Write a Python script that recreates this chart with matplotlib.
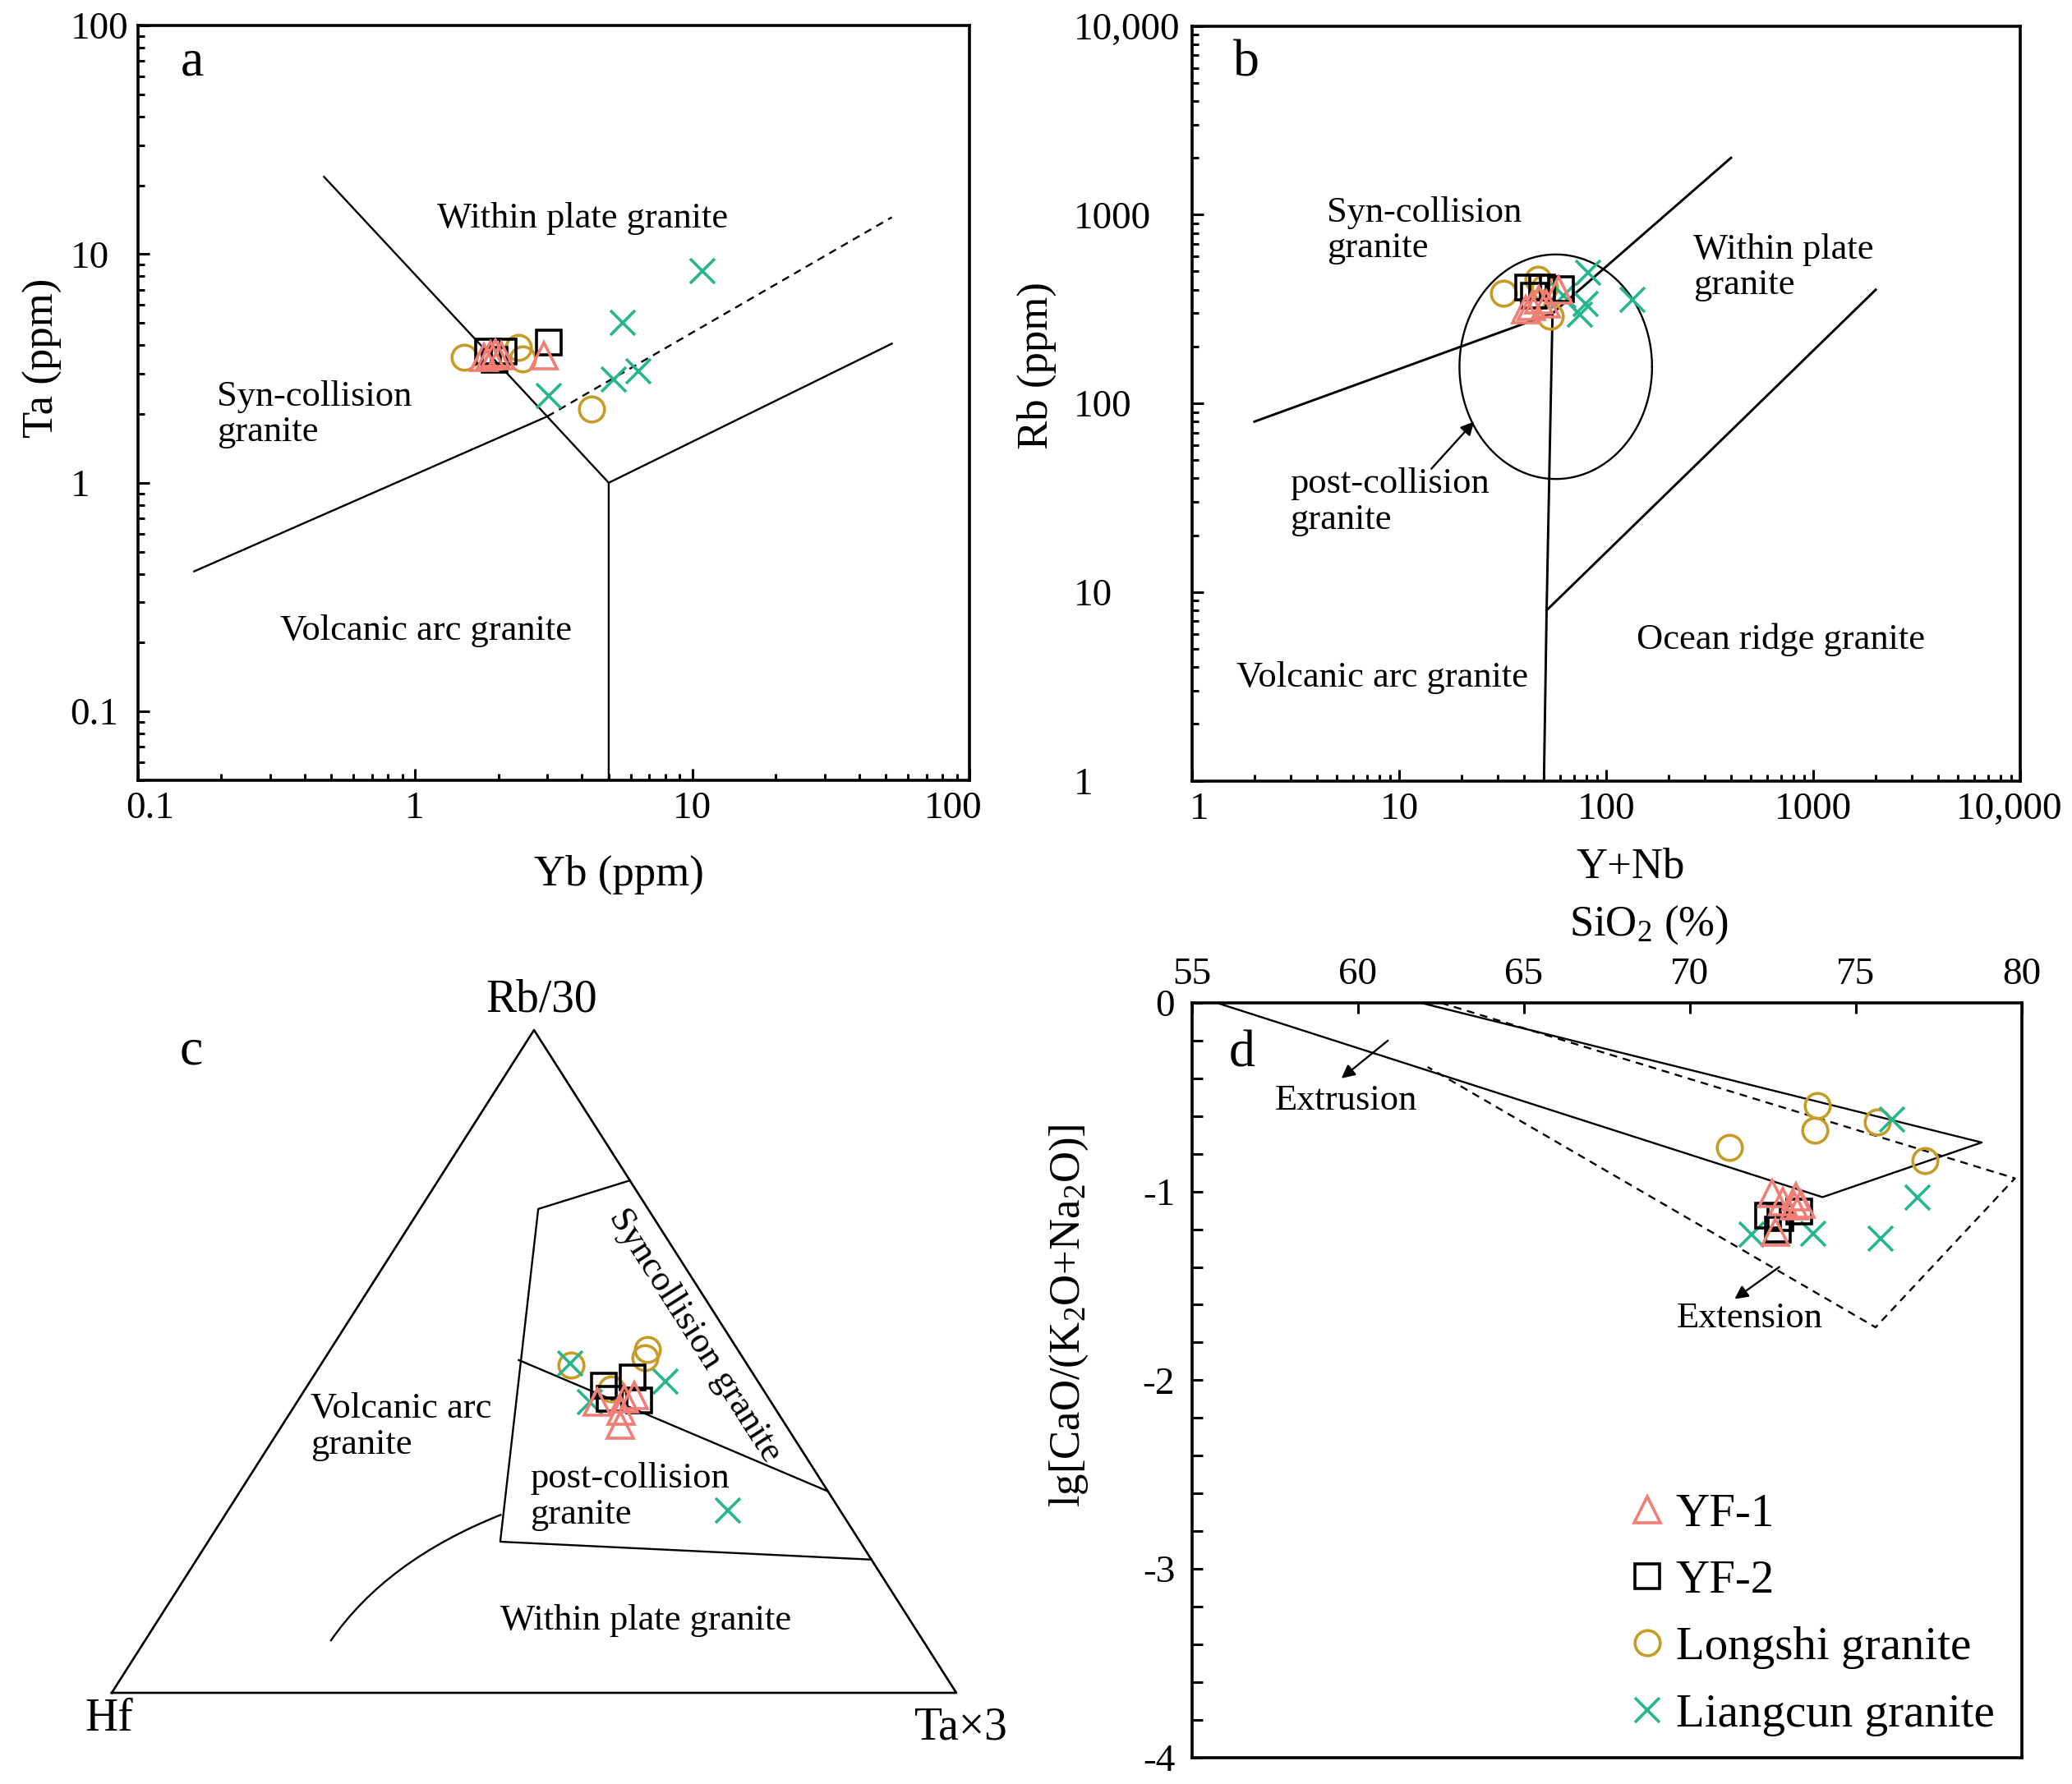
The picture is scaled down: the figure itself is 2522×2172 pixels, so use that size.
import numpy as np
import matplotlib
matplotlib.use("Agg")
import matplotlib.pyplot as plt
from matplotlib.path import Path
from matplotlib.patches import PathPatch
from matplotlib.ticker import LogLocator, NullFormatter, MultipleLocator
from matplotlib.transforms import ScaledTranslation

plt.rcParams['font.family'] = ['Liberation Serif', 'DejaVu Serif']
plt.rcParams['mathtext.fontset'] = 'custom'
plt.rcParams['mathtext.rm'] = 'Liberation Serif'
plt.rcParams['mathtext.it'] = 'Liberation Serif:italic'

# ======================= DATA =======================
series_labels = ['YF-1', 'YF-2', 'Longshi granite', 'Liangcun granite']

# --- panel a : Yb (ppm) vs Ta (ppm)
a_yf1_yb = [1.77, 1.87, 1.95, 2.05, 2.91]
a_yf1_ta = [3.54, 3.64, 3.70, 3.59, 3.59]
a_yf2_yb = [1.83, 2.09, 1.94, 3.05]
a_yf2_ta = [3.74, 3.74, 3.44, 4.12]
a_ls_yb = [1.51, 2.37, 2.45, 4.33]
a_ls_ta = [3.54, 3.90, 3.49, 2.10]
a_lc_yb = [10.9, 5.6, 5.2, 6.41, 3.05]
a_lc_ta = [8.44, 5.0, 2.84, 3.08, 2.40]

# panel a field boundaries (Yb, Ta)
a_syn_wpg_yb = [0.47, 3.0, 5.0]
a_syn_wpg_ta = [21.8, 1.95, 1.0]
a_vag_syn_yb = [0.16, 3.0]
a_vag_syn_ta = [0.41, 1.95]
a_vag_wpg_yb = [5.0, 5.0, 52.5]
a_vag_wpg_ta = [0.05, 1.0, 4.06]
a_org_yb = [3.0, 52.5]
a_org_ta = [1.95, 14.5]

a_ticks = [0.1, 1, 10, 100]
a_ticklabels = ['0.1', '1', '10', '100']

# --- panel b : Y+Nb vs Rb (ppm)
b_yf1_ynb = [43.3, 47.4, 58.7, 40.7, 51.2]
b_yf1_rb = [325, 353, 398, 315, 336]
b_yf2_ynb = [42.0, 48.9, 60.4, 44.6]
b_yf2_rb = [411, 411, 404, 372]
b_ls_ynb = [31.9, 46.7, 53.5, 50.4]
b_ls_rb = [385, 454, 289, 411]
b_lc_ynb = [82.0, 79.4, 74.8, 133.6, 62.0]
b_lc_rb = [494, 336, 294, 353, 372]

# panel b field boundaries (Y+Nb, Rb)
b_syn_vag_x = [2.0, 55.0]
b_syn_vag_y = [80, 300]
b_syn_wpg_x = [55.0, 400.0]
b_syn_wpg_y = [300, 2000]
b_vag_x = [55.0, 51.5, 50.0]
b_vag_y = [300, 8, 1]
b_wpg_org_x = [51.5, 2000.0]
b_wpg_org_y = [8, 400]
# post-collision ellipse (log10 centre and semi-axes)
b_ell_logc = (1.756, 2.194)
b_ell_logr = (0.465, 0.595)

b_ticks = [1, 10, 100, 1000, 10000]
b_ticklabels = ['1', '10', '100', '1000', '10,000']

# --- panel c : ternary Hf - Rb/30 - Ta*3 (percent)
c_yf1_hf = [20.6, 17.1, 15.7, 18.4, 19.6]
c_yf1_rb = [43.9, 44.3, 44.9, 42.5, 40.4]
c_yf1_ta = [35.5, 38.5, 39.4, 39.1, 40.0]
c_yf2_hf = [18.5, 14.5, 15.5, 18.9]
c_yf2_rb = [46.4, 47.6, 44.1, 44.3]
c_yf2_ta = [35.1, 37.9, 40.4, 36.8]
c_ls_hf = [20.9, 10.7, 11.6, 18.0]
c_ls_rb = [49.5, 51.8, 50.5, 45.8]
c_ls_ta = [29.6, 37.6, 37.9, 36.2]
c_lc_hf = [20.9, 10.9, 21.4, 13.3]
c_lc_rb = [49.7, 47.0, 43.9, 27.5]
c_lc_ta = [29.4, 42.1, 34.7, 59.2]

# ternary field boundaries (Hf, Rb/30, Ta*3)
c_poly_hf = [0.0, 13.0, 42.6, 0.0]
c_poly_rb = [77.3, 73.0, 22.8, 20.1]
c_poly_ta = [22.7, 14.0, 34.6, 79.9]
c_mid_hf = [26.7, 0.0]
c_mid_rb = [50.2, 30.4]
c_mid_ta = [23.1, 69.6]
c_curve_hf = [70.2, 57.5, 40.4]
c_curve_rb = [7.8, 20.0, 26.9]
c_curve_ta = [22.0, 22.5, 32.7]

# --- panel d : SiO2 vs lg[CaO/(K2O+Na2O)]
d_yf1_si = [72.48, 72.81, 73.19, 73.35, 72.57, 73.14]
d_yf1_lg = [-1.011, -1.055, -1.026, -1.069, -1.214, -1.076]
d_yf2_si = [72.36, 72.65, 73.31, 72.73]
d_yf2_lg = [-1.127, -1.200, -1.106, -1.142]
d_ls_si = [71.2, 73.85, 73.76, 75.64, 77.09]
d_ls_lg = [-0.765, -0.544, -0.675, -0.631, -0.834]
d_lc_si = [76.1, 76.86, 75.75, 73.71, 71.86]
d_lc_lg = [-0.62, -1.033, -1.25, -1.222, -1.229]

d_solid_si = [61.9, 78.8, 74.0, 55.75]
d_solid_lg = [0.0, -0.74, -1.03, 0.0]
d_dash_si = [62.5, 79.8, 75.6, 62.1]
d_dash_lg = [0.0, -0.93, -1.72, -0.34]

d_xticks = [55, 60, 65, 70, 75, 80]
d_xticklabels = ['55', '60', '65', '70', '75', '80']
d_yticks = [0, -1, -2, -3, -4]
d_yticklabels = ['0', '-1', '-2', '-3', '-4']

# ======================= STYLE =======================
C_TRI = '#F27D75'
C_CIR = '#C69C26'
C_X = '#27B58D'
MEW = 2.6
TRI = dict(marker='^', ms=23, mfc='none', mec=C_TRI, mew=MEW, ls='none', zorder=6)
SQ = dict(marker='s', ms=21, mfc='none', mec='black', mew=MEW, ls='none', zorder=5)
CIR = dict(marker='o', ms=22, mfc='none', mec=C_CIR, mew=MEW, ls='none', zorder=3)
XX = dict(marker='x', ms=21, mec=C_X, mew=MEW, ls='none', zorder=4)
LINE = dict(color='black', lw=1.7, zorder=2)

FS_TICK = 34
FS_LAB = 38
FS_TXT = 32
FS_LET = 46

W, H, DPI = 2522, 2172, 100
fig = plt.figure(figsize=(W / DPI, H / DPI), dpi=DPI)


def px_axes(l, t, r, b):
    return fig.add_axes([l / W, 1 - b / H, (r - l) / W, (b - t) / H])


def shift_label(lab, dx_px):
    lab.set_transform(lab.get_transform() + ScaledTranslation(dx_px / DPI, 0, fig.dpi_scale_trans))


def log_axes_style(ax, ypad):
    for s in ax.spines.values():
        s.set_linewidth(2.6)
    for axis in (ax.xaxis, ax.yaxis):
        axis.set_minor_locator(LogLocator(base=10, subs=np.arange(2, 10), numticks=60))
        axis.set_minor_formatter(NullFormatter())
    ax.tick_params(which='both', direction='in', top=False, right=False, width=2.2)
    ax.tick_params(which='major', length=10, labelsize=FS_TICK)
    ax.tick_params(which='minor', length=6)
    ax.tick_params(axis='x', pad=10)
    ax.tick_params(axis='y', pad=ypad)
    for lab in ax.get_yticklabels():
        lab.set_ha('left')


# ======================= PANEL A =======================
axa = px_axes(167.5, 31, 1180, 950)
axa.set_xscale('log')
axa.set_yscale('log')
axa.set_xlim(0.1, 100)
axa.set_ylim(0.05, 100)
axa.set_xticks(a_ticks, a_ticklabels)
axa.set_yticks(a_ticks, a_ticklabels)
log_axes_style(axa, 59)
xl = axa.get_xticklabels()
shift_label(xl[0], 15)
shift_label(xl[-1], -20)

axa.plot(a_syn_wpg_yb, a_syn_wpg_ta, **LINE)
axa.plot(a_vag_syn_yb, a_vag_syn_ta, **LINE)
axa.plot(a_vag_wpg_yb, a_vag_wpg_ta, **LINE)
axa.plot(a_org_yb, a_org_ta, color='black', lw=1.7, ls=(0, (4, 3)), zorder=2)

axa.plot(a_ls_yb, a_ls_ta, **CIR)
axa.plot(a_lc_yb, a_lc_ta, **XX)
axa.plot(a_yf2_yb, a_yf2_ta, **SQ)
axa.plot(a_yf1_yb, a_yf1_ta, **TRI)

axa.text(0.066, 0.95, 'a', transform=axa.transAxes, fontsize=FS_LET, ha='center', va='center')
axa.text(0.535, 0.744, 'Within plate granite', transform=axa.transAxes, fontsize=FS_TXT,
         ha='center', va='center')
axa.text(0.095, 0.485, 'Syn-collision\ngranite', transform=axa.transAxes, fontsize=FS_TXT,
         ha='left', va='center', linespacing=1.1)
axa.text(0.347, 0.198, 'Volcanic arc granite', transform=axa.transAxes, fontsize=FS_TXT,
         ha='center', va='center')
axa.set_xlabel('Yb (ppm)', fontsize=FS_LAB, va='center')
axa.xaxis.set_label_coords(0.579, -0.125)
axa.set_ylabel('Ta (ppm)', fontsize=FS_LAB, va='center')
axa.yaxis.set_label_coords(-0.114, 0.56)

# ======================= PANEL B =======================
axb = px_axes(1451, 31.6, 2459.3, 950.5)
axb.set_xscale('log')
axb.set_yscale('log')
axb.set_xlim(1, 10000)
axb.set_ylim(1, 10000)
axb.set_xticks(b_ticks, b_ticklabels)
axb.set_yticks(b_ticks, b_ticklabels)
log_axes_style(axb, 104)
xl = axb.get_xticklabels()
shift_label(xl[0], 9)
shift_label(xl[-1], -14)

LINEB = dict(color='black', lw=2.1, zorder=2)
axb.plot(b_syn_vag_x, b_syn_vag_y, **LINEB)
axb.plot(b_syn_wpg_x, b_syn_wpg_y, **LINEB)
axb.plot(b_vag_x, b_vag_y, **LINEB)
axb.plot(b_wpg_org_x, b_wpg_org_y, **LINEB)
tt = np.linspace(0, 2 * np.pi, 361)
axb.plot(10 ** (b_ell_logc[0] + b_ell_logr[0] * np.cos(tt)),
         10 ** (b_ell_logc[1] + b_ell_logr[1] * np.sin(tt)), color='black', lw=1.7, zorder=2)
axb.annotate('', xy=(23, 80), xytext=(14.3, 45),
             arrowprops=dict(arrowstyle='-|>', color='black', lw=1.7, mutation_scale=24,
                             shrinkA=0, shrinkB=0))

axb.plot(b_ls_ynb, b_ls_rb, **CIR)
axb.plot(b_lc_ynb, b_lc_rb, **XX)
axb.plot(b_yf2_ynb, b_yf2_rb, **SQ)
axb.plot(b_yf1_ynb, b_yf1_rb, **TRI)

axb.text(0.065, 0.95, 'b', transform=axb.transAxes, fontsize=FS_LET, ha='center', va='center')
axb.text(0.1625, 0.729, 'Syn-collision\ngranite', transform=axb.transAxes, fontsize=FS_TXT,
         ha='left', va='center', linespacing=1.1)
axb.text(0.605, 0.68, 'Within plate\ngranite', transform=axb.transAxes, fontsize=FS_TXT,
         ha='left', va='center', linespacing=1.1)
axb.text(0.1185, 0.3695, 'post-collision\ngranite', transform=axb.transAxes, fontsize=FS_TXT,
         ha='left', va='center', linespacing=1.1)
axb.text(0.711, 0.187, 'Ocean ridge granite', transform=axb.transAxes, fontsize=FS_TXT,
         ha='center', va='center')
axb.text(0.230, 0.137, 'Volcanic arc granite', transform=axb.transAxes, fontsize=FS_TXT,
         ha='center', va='center')
axb.set_xlabel('Y+Nb', fontsize=FS_LAB, va='center')
axb.xaxis.set_label_coords(0.529, -0.1146)
axb.set_ylabel('Rb (ppm)', fontsize=FS_LAB, va='center')
axb.yaxis.set_label_coords(-0.188, 0.55)

# ======================= PANEL C (ternary) =======================
axc = fig.add_axes([0, 0, 1261 / W, 1072 / H])
axc.set_xlim(0, 1261)
axc.set_ylim(2172, 1100)
axc.axis('off')

V_HF = (136.0, 2061.0)
V_RB = (650.0, 1254.0)
V_TA = (1164.0, 2061.0)


def tern(hf, rb, ta):
    hf, rb, ta = (np.asarray(v, dtype=float) for v in (hf, rb, ta))
    s = hf + rb + ta
    a, b, c = hf / s, rb / s, ta / s
    return (a * V_HF[0] + b * V_RB[0] + c * V_TA[0],
            a * V_HF[1] + b * V_RB[1] + c * V_TA[1])


LINEC = dict(color='black', lw=1.7, zorder=2)
axc.plot([V_HF[0], V_RB[0], V_TA[0], V_HF[0]], [V_HF[1], V_RB[1], V_TA[1], V_HF[1]],
         color='black', lw=1.9, zorder=2)
axc.plot(*tern(c_poly_hf, c_poly_rb, c_poly_ta), **LINEC)
axc.plot(*tern(c_mid_hf, c_mid_rb, c_mid_ta), **LINEC)
cx, cy = tern(c_curve_hf, c_curve_rb, c_curve_ta)
curve = Path(list(zip(cx, cy)), [Path.MOVETO, Path.CURVE3, Path.CURVE3])
axc.add_patch(PathPatch(curve, fill=False, lw=1.7, color='black', zorder=2))

axc.plot(*tern(c_ls_hf, c_ls_rb, c_ls_ta), **CIR)
axc.plot(*tern(c_lc_hf, c_lc_rb, c_lc_ta), **XX)
axc.plot(*tern(c_yf2_hf, c_yf2_rb, c_yf2_ta), **SQ)
axc.plot(*tern(c_yf1_hf, c_yf1_rb, c_yf1_ta), **TRI)

axc.text(233, 1281, 'c', fontsize=FS_LET, ha='center', va='center')
axc.text(659, 1218, 'Rb/30', fontsize=40, ha='center', va='center')
axc.text(133, 2093, 'Hf', fontsize=40, ha='center', va='center')
axc.text(1170, 2103, 'Ta×3', fontsize=40, ha='center', va='center')
axc.text(378, 1737, 'Volcanic arc\ngranite', fontsize=FS_TXT, ha='left', va='center',
         linespacing=1.1)
axc.text(846, 1626, 'Syncollision granite', fontsize=FS_TXT, ha='center', va='center',
         rotation=-57.5, rotation_mode='anchor')
axc.text(645, 1822, 'post-collision\ngranite', fontsize=FS_TXT, ha='left', va='center',
         linespacing=1.1)
axc.text(786, 1973, 'Within plate granite', fontsize=FS_TXT, ha='center', va='center')

# ======================= PANEL D =======================
axd = px_axes(1451, 1221, 2460.6, 2139.6)
axd.set_xlim(55, 80)
axd.set_ylim(-4, 0)
for s in axd.spines.values():
    s.set_linewidth(2.6)
axd.xaxis.tick_top()
axd.xaxis.set_label_position('top')
axd.set_xticks(d_xticks, d_xticklabels)
axd.set_yticks(d_yticks, d_yticklabels)
axd.yaxis.set_minor_locator(MultipleLocator(0.2))
axd.tick_params(which='both', direction='in', top=True, bottom=False, left=True, right=False,
                labeltop=True, labelbottom=False, width=2.2, length=9)
axd.tick_params(which='major', labelsize=FS_TICK)
axd.tick_params(axis='x', pad=9)
axd.tick_params(axis='y', pad=15)

axd.plot(d_solid_si, d_solid_lg, color='black', lw=1.7, zorder=2)
axd.plot(d_dash_si, d_dash_lg, color='black', lw=1.7, ls=(0, (4, 3)), zorder=2)
AR = dict(arrowstyle='-|>', color='black', lw=1.7, mutation_scale=24, shrinkA=0, shrinkB=0)
axd.annotate('', xy=(59.5, -0.40), xytext=(60.9, -0.20), arrowprops=AR)
axd.annotate('', xy=(71.35, -1.57), xytext=(72.7, -1.40), arrowprops=AR)

axd.plot(d_ls_si, d_ls_lg, label=series_labels[2], **CIR)
axd.plot(d_lc_si, d_lc_lg, label=series_labels[3], **XX)
axd.plot(d_yf2_si, d_yf2_lg, label=series_labels[1], **SQ)
axd.plot(d_yf1_si, d_yf1_lg, label=series_labels[0], **TRI)

axd.text(56.5, -0.27, 'd', fontsize=FS_LET, ha='center', va='center')
axd.text(59.65, -0.52, 'Extrusion', fontsize=FS_TXT, ha='center', va='center')
axd.text(71.8, -1.67, 'Extension', fontsize=FS_TXT, ha='center', va='center')

handles, labels = axd.get_legend_handles_labels()
order = [labels.index(l) for l in series_labels]
axd.legend([handles[i] for i in order], [labels[i] for i in order],
           loc='upper left', bbox_to_anchor=(0.521, 0.3505), frameon=False,
           fontsize=41, borderpad=0, borderaxespad=0, handlelength=1.0,
           handletextpad=0.1, labelspacing=0.515, numpoints=1)

axd.set_xlabel('SiO$_2$ (%)', fontsize=FS_LAB, va='center')
axd.xaxis.set_label_coords(0.551, 1.1034)
axd.set_ylabel('lg[CaO/(K$_2$O+Na$_2$O)]', fontsize=FS_LAB, va='center')
axd.yaxis.set_label_coords(-0.148, 0.585)

fig.savefig('out.png', dpi=DPI)
